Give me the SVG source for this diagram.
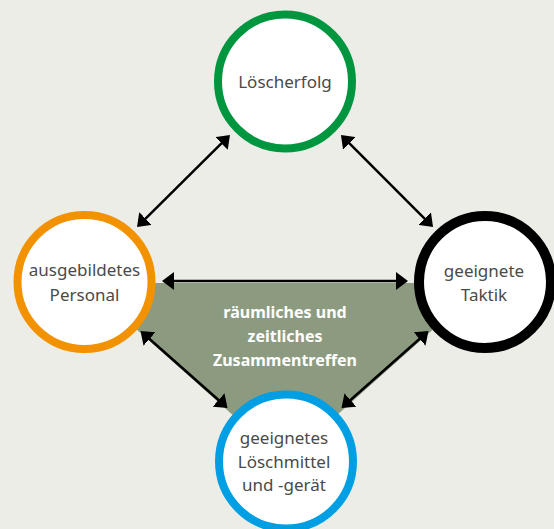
<svg xmlns="http://www.w3.org/2000/svg" width="554" height="529" viewBox="0 0 554 529">
<defs>
<style>
.bg{fill:#ededE8}
.node{fill:#ffffff}
.lbl{font-family:"Noto Sans","Open Sans","DejaVu Sans",sans-serif;font-size:17px;fill:#4a4a4a;text-anchor:middle}
.clbl{font-family:"Noto Sans","Open Sans","DejaVu Sans",sans-serif;font-size:16px;font-weight:bold;fill:#ffffff;text-anchor:middle}
.conn{stroke:#000000;stroke-width:2.5;fill:none;marker-start:url(#ah);marker-end:url(#ah)}
</style>
<marker id="ah" viewBox="0 0 12 18" refX="6" refY="9" markerWidth="12" markerHeight="18" markerUnits="userSpaceOnUse" orient="auto-start-reverse">
<path d="M0,0 L12,9 L0,18 Z" fill="#000000"/>
</marker>
</defs>
<rect class="bg" x="0" y="0" width="554" height="529"/>
<g id="zusammentreffen">
<polygon points="84.5,283 485,283 285,461.5" fill="#8c9b80"/>
<text class="clbl" x="285" y="318">räumliches und</text>
<text class="clbl" x="285" y="342">zeitliches</text>
<text class="clbl" x="285" y="366">Zusammentreffen</text>
</g>
<g id="loescherfolg">
<circle class="node" cx="285" cy="81.5" r="67" stroke="#00963f" stroke-width="8"/>
<text class="lbl" x="285" y="88">Löscherfolg</text>
</g>
<g id="personal">
<circle class="node" cx="84.5" cy="282" r="67" stroke="#f39200" stroke-width="8"/>
<text class="lbl" x="84.5" y="276">ausgebildetes</text>
<text class="lbl" x="84.5" y="300.5">Personal</text>
</g>
<g id="taktik">
<circle class="node" cx="485" cy="282" r="66" stroke="#000000" stroke-width="10"/>
<text class="lbl" x="484" y="277">geeignete</text>
<text class="lbl" x="484" y="300.5">Taktik</text>
</g>
<g id="loeschmittel">
<circle class="node" cx="286" cy="461.5" r="67" stroke="#009fe3" stroke-width="8"/>
<text class="lbl" x="284" y="444">geeignetes</text>
<text class="lbl" x="284" y="467.5">Löschmittel</text>
<text class="lbl" x="284" y="491">und -gerät</text>
</g>
<g id="connectors">
<line class="conn" x1="168" y1="281" x2="402" y2="281"/>
<line class="conn" x1="141.3" y1="222.8" x2="225.7" y2="139.2"/>
<line class="conn" x1="345.2" y1="139.2" x2="428.8" y2="222.8"/>
<line class="conn" x1="145" y1="335" x2="223" y2="404"/>
<line class="conn" x1="424" y1="335" x2="346" y2="404"/>
</g>
</svg>
